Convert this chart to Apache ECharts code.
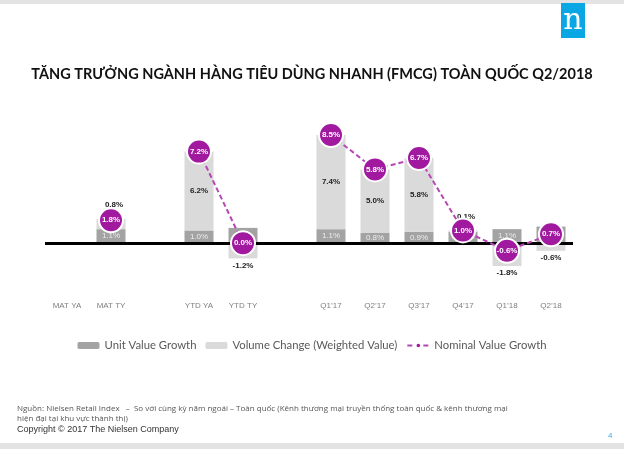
<!DOCTYPE html>
<html>
<head>
<meta charset="utf-8">
<script src="https://cdn.jsdelivr.net/npm/echarts@6/dist/echarts.min.js"></script>
<style>
html,body{margin:0;padding:0;background:#fff;}
#c{width:624px;height:449px;}
</style>
</head>
<body>
<div id="c"></div>
<script>
var categories = ['MAT YA', 'MAT TY', ' ', 'YTD YA', 'YTD TY', '  ', 'Q1\u201917', 'Q2\u201917', 'Q3\u201917', 'Q4\u201917', 'Q1\u201918', 'Q2\u201918'];
var unitValueGrowth = [null, 1.1, null, 1.0, 1.2, null, 1.1, 0.8, 0.9, 0.9, 1.1, 1.3];
var volumeChange = [null, 0.8, null, 6.2, -1.2, null, 7.4, 5.0, 5.8, 0.1, -1.8, -0.6];
var nominalValueGrowth = [null, 1.8, null, 7.2, 0.0, null, 8.5, 5.8, 6.7, 1.0, -0.6, 0.7];

var PURPLE = '#a0199f';
function pct(v){ return v.toFixed(1) + '%'; }

var volData = volumeChange.map(function(v){
  if (v === null) return null;
  if (Math.abs(v) >= 2) return {value: v, label: {position: 'inside'}};
  if (v > 0) return {value: v, label: {position: 'top', distance: 10, offset: [3, 0]}};
  return {value: v, label: {position: 'bottom', distance: 3}};
});

var chart = echarts.init(document.getElementById('c'), null, {renderer: 'canvas'});
chart.setOption({
  animation: false,
  backgroundColor: '#fff',
  title: {
    text: 'TĂNG TRƯỞNG NGÀNH HÀNG TIÊU DÙNG NHANH (FMCG) TOÀN QUỐC Q2/2018',
    left: 'center', top: 62,
    textStyle: {fontFamily: 'Lato', fontWeight: 'bold', fontSize: 14.5, color: '#111'}
  },
  legend: {
    top: 335, left: 'center',
    itemWidth: 22, itemHeight: 7, itemGap: 9,
    textStyle: {fontFamily: 'Lato', fontSize: 11.3, color: '#595959'},
    data: ['Unit Value Growth', 'Volume Change (Weighted Value)', 'Nominal Value Growth']
  },
  grid: {left: 45, right: 51, top: 116, bottom: 155},
  xAxis: {
    type: 'category', data: categories,
    axisLine: {show: false, onZero: false}, axisTick: {show: false},
    axisLabel: {color: '#7f7f7f', fontSize: 8, fontFamily: 'Arial', margin: 8}
  },
  yAxis: {
    type: 'value', min: -4, max: 10, show: false, splitLine: {show: false}
  },
  series: [
    {
      name: 'Unit Value Growth', type: 'bar', stack: 'a', barWidth: 29,
      data: unitValueGrowth,
      itemStyle: {color: '#a3a3a3'},
      label: {show: true, position: 'inside', color: '#ececec', fontSize: 8, fontFamily: 'Arial',
        formatter: function(p){ return pct(p.value); }},
      markLine: {
        silent: true, symbol: 'none',
        lineStyle: {color: '#000', width: 3, type: 'solid'},
        label: {show: false},
        data: [{yAxis: 0}]
      },
      z: 2
    },
    {
      name: 'Volume Change (Weighted Value)', type: 'bar', stack: 'a', barWidth: 29,
      data: volData,
      itemStyle: {color: '#dadada'},
      label: {show: true, color: '#222', fontSize: 8, fontWeight: 'bold', fontFamily: 'Arial',
        formatter: function(p){ return pct(p.value); }},
      z: 2
    },
    {
      name: 'Nominal Value Growth', type: 'line', data: nominalValueGrowth,
      connectNulls: false,
      symbol: 'circle', symbolSize: 24,
      itemStyle: {color: PURPLE, borderColor: '#fff', borderWidth: 2},
      lineStyle: {color: '#b548b3', width: 2, type: [5, 3]},
      label: {show: true, position: 'inside', color: '#fff', fontSize: 8, fontWeight: 'bold', fontFamily: 'Arial',
        formatter: function(p){ return pct(p.value); }},
      z: 5
    }
  ],
  graphic: [
    {type: 'rect', shape: {x: 0, y: 0, width: 624, height: 4}, style: {fill: '#e3e3e3'}},
    {type: 'rect', shape: {x: 0, y: 443, width: 624, height: 6}, style: {fill: '#e3e3e3'}},
    {type: 'rect', shape: {x: 561, y: 3, width: 24, height: 35}, style: {fill: '#0aa7e4'}},
    {type: 'text', x: 573, y: 21, style: {text: 'n', fill: '#fff', font: '30px "DejaVu Serif"', textAlign: 'center', textVerticalAlign: 'middle'}},
    {type: 'text', x: 17, y: 409, style: {text: 'Nguồn: Nielsen Retail Index   –  So với cùng kỳ năm ngoái – Toàn quốc (Kênh thương mại truyền thống toàn quốc & kênh thương mại', fill: '#555', font: '8px "Open Sans"', textVerticalAlign: 'middle'}},
    {type: 'text', x: 17, y: 419, style: {text: 'hiện đại tại khu vực thành thị)', fill: '#555', font: '8px "Open Sans"', textVerticalAlign: 'middle'}},
    {type: 'text', x: 17, y: 430, style: {text: 'Copyright © 2017 The Nielsen Company', fill: '#333', font: '9px "Liberation Sans"', textVerticalAlign: 'middle'}},
    {type: 'text', x: 608, y: 436, style: {text: '4', fill: '#3fa9e0', font: '8px "Liberation Sans"', textVerticalAlign: 'middle'}}
  ]
});
</script>
</body>
</html>
